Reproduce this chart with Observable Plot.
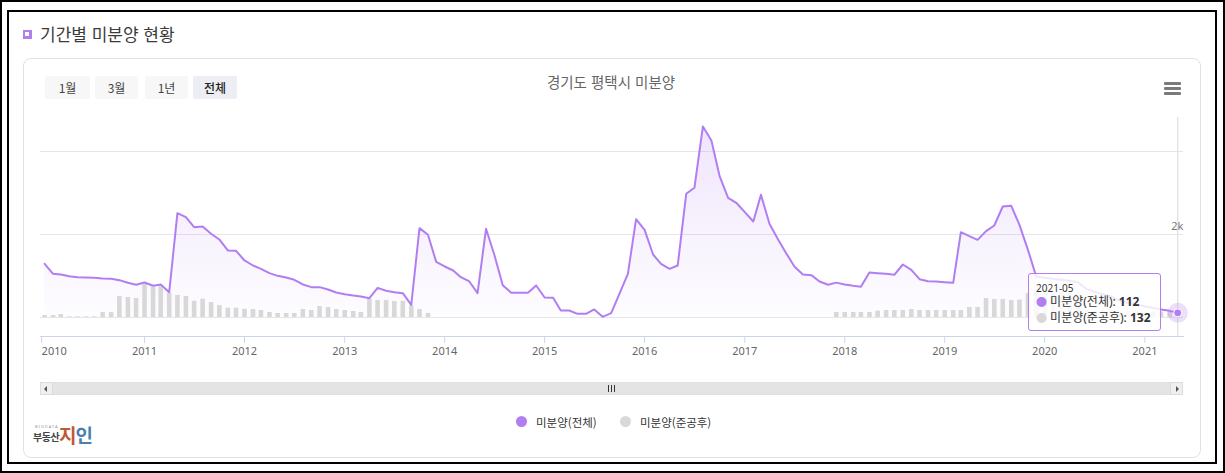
<!DOCTYPE html>
<html lang="ko">
<head>
<meta charset="utf-8">
<script src="https://cdn.jsdelivr.net/npm/d3@7"></script>
<script src="https://cdn.jsdelivr.net/npm/@observablehq/plot@0.6"></script>
<style>
  html, body { margin: 0; padding: 0; background: #fff; }
  body { width: 1225px; height: 473px; overflow: hidden; position: relative;
         font-family: "Noto Sans CJK KR", "Noto Sans", sans-serif; }
  .abs { position: absolute; }
  .btn { position: absolute; top: 76px; height: 23px; line-height: 23px; text-align: center;
         font-size: 12px; color: #444; background: #f7f7f8; border-radius: 2px; }
  .btn.on { background: #eceef3; color: #222; font-weight: 500; }
  .hb { position: absolute; left: 1164px; width: 17px; height: 2.6px; background: #7a7a7a; border-radius: 1px; }
  .leg { position: absolute; top: 414px; font-size: 11.5px; color: #333; line-height: 16px; }
  .legdot { position: absolute; top: 416px; width: 11px; height: 11px; border-radius: 50%; }
</style>
</head>
<body>
<div id="root"></div>
<script>
// ---------------- data ----------------
const startMonth = "2010-01";
const endMonth = "2021-05";
const seriesNames = ["미분양(전체)", "미분양(준공후)"];
const chartTitle = "경기도 평택시 미분양";
const sectionTitle = "기간별 미분양 현황";
const rangeButtons = ["1월", "3월", "1년", "전체"];

// 미분양(전체), monthly 2010-01 .. 2021-05
const totalValues = [
  1294, 1053, 1036, 996, 972, 965, 956, 940, 932, 900, 836, 788,
  844, 764, 795, 610, 2514, 2418, 2176, 2193, 2017, 1880, 1615, 1607,
  1374, 1253, 1173, 1069, 1004, 964, 908, 795, 731, 731, 675, 603,
  562, 530, 506, 466, 715, 643, 610, 586, 305, 2153, 1993, 1340,
  1229, 1133, 972, 868, 586, 2137, 1518, 779, 595, 595, 595, 771,
  482, 474, 169, 169, 88, 88, 193, 16, 104, 571, 1053, 2370,
  2113, 1518, 1293, 1173, 1253, 2981, 3125, 4603, 4266, 3406, 2884, 2764,
  2538, 2314, 2957, 2258, 1897, 1550, 1229, 1036, 1020, 868, 788, 840,
  795, 763, 739, 1084, 1068, 1052, 1028, 1277, 1148, 923, 875, 867,
  851, 835, 2056, 1959, 1871, 2080, 2216, 2674, 2690, 2232, 1630, 990,
  960, 935, 910, 885, 850, 690, 620, 560, 500, 400, 350, 310,
  270, 230, 195, 160, 112
];

// 미분양(준공후), monthly 2010-01 .. 2021-05 (null = no value)
const completedValues = [
  48, 48, 72, 16, 16, 16, 16, 120, 120, 506, 482, 458,
  800, 735, 765, 586, 530, 506, 393, 441, 361, 289, 225, 225,
  201, 193, 169, 120, 96, 96, 96, 193, 169, 265, 241, 193,
  169, 144, 120, 440, 412, 412, 386, 390, 280, 193, 100, null,
  null, null, null, null, null, null, null, null, null, null, null, null,
  null, null, null, null, null, null, null, null, null, null, null, null,
  null, null, null, null, null, null, null, null, null, null, null, null,
  null, null, null, null, null, null, null, null, null, null, null, 120,
  120, 120, 120, 120, 153, 169, 169, 169, 193, 169, 169, 169,
  169, 169, 169, 241, 241, 458, 434, 434, 410, 420, 580, 620,
  620, 600, 600, 580, 560, 170, 160, 150, 150, 140, 140, 140,
  130, 130, 130, 130, 132
];

const yGridValues = [0, 2000, 4000];
const yLabelValues = [2000];
const yLabelText = ["2k"];
const xTickYears = [2010, 2011, 2012, 2013, 2014, 2015, 2016, 2017, 2018, 2019, 2020, 2021];

// ---------------- build ----------------
const parseMonth = d3.utcParse("%Y-%m");
const months = d3.utcMonth.range(parseMonth(startMonth), d3.utcMonth.offset(parseMonth(endMonth), 1));
const rows = months.map((date, i) => ({date, total: totalValues[i], completed: completedValues[i]}));
const barRows = rows.filter(d => d.completed != null);
const last = rows[rows.length - 1];
const yearTicks = xTickYears.map(y => new Date(Date.UTC(y, 0, 1)));

const purple = "#b17ef2";
const grey = "#d8d8d8";

const gradient = () => {
  const defs = d3.create("svg:defs");
  const g = defs.append("linearGradient").attr("id", "areaGrad")
    .attr("x1", 0).attr("y1", 0).attr("x2", 0).attr("y2", 1);
  g.append("stop").attr("offset", "0%").attr("stop-color", purple).attr("stop-opacity", 0.2);
  g.append("stop").attr("offset", "100%").attr("stop-color", purple).attr("stop-opacity", 0.02);
  return defs.node();
};

const axisStyle = {tickFormat: d3.utcFormat("%Y"), tickSize: 7, tickPadding: 4,
  stroke: "#ccd6eb", strokeOpacity: 1, fill: "#666", fontSize: 11, label: null};

const chart = Plot.plot({
  width: 1225,
  height: 370,
  marginLeft: 40,
  marginRight: 42,
  marginTop: 117,
  marginBottom: 34,
  style: {background: "transparent", fontFamily: "'Noto Sans', 'Noto Sans CJK KR', sans-serif", overflow: "visible"},
  x: {type: "utc", domain: [new Date(Date.UTC(2009, 11, 17)), new Date(Date.UTC(2021, 4, 22))], axis: null},
  y: {domain: [-458, 4819], axis: null},
  marks: [
    gradient,
    Plot.gridY(yGridValues, {stroke: "#e6e6e6", strokeOpacity: 1}),
    Plot.ruleX([last], {x: "date", stroke: "#d9d9d9", strokeWidth: 1}),
    Plot.areaY(rows, {x: "date", y: "total", fill: "url(#areaGrad)"}),
    Plot.ruleX(barRows, {x: "date", y1: 0, y2: "completed", stroke: grey, strokeWidth: 4.6}),
    Plot.lineY(rows, {x: "date", y: "total", stroke: purple, strokeWidth: 2, strokeLinejoin: "round"}),
    Plot.frame({anchor: "bottom", stroke: "#ccd6eb", strokeOpacity: 1}),
    Plot.axisX(yearTicks.slice(0, 1), {...axisStyle, textAnchor: "start", dx: -3}),
    Plot.axisX(yearTicks.slice(1), axisStyle),
    Plot.text(yLabelValues, {y: d => d, text: (d, i) => yLabelText[i], frameAnchor: "right",
      textAnchor: "end", dy: -8, fill: "#777", fontSize: 11}),
    Plot.dot([last], {x: "date", y: "total", r: 10, fill: purple, fillOpacity: 0.25, stroke: "none"}),
    Plot.dot([last], {x: "date", y: "total", r: 4, fill: purple, stroke: "#fff", strokeWidth: 1})
  ]
});

const root = document.getElementById("root");
const html = (s) => { const t = document.createElement("template"); t.innerHTML = s.trim(); return t.content.firstChild; };

// frames
root.appendChild(html(`<div class="abs" style="left:0;top:0;width:1225px;height:473px;border:2px solid #000;box-sizing:border-box"></div>`));
root.appendChild(html(`<div class="abs" style="left:7px;top:10px;width:1210px;height:454px;border:2px solid #000;box-sizing:border-box"></div>`));
// section title
root.appendChild(html(`<div class="abs" style="left:23px;top:30px;width:9px;height:9px;background:#b17ef2;box-sizing:border-box;border:2.5px solid #b17ef2;"><div style="width:4px;height:4px;background:#fff"></div></div>`));
root.appendChild(html(`<div class="abs" style="left:40px;top:22px;font-size:17px;color:#3a3a3a;line-height:24px">${sectionTitle}</div>`));
// card
root.appendChild(html(`<div class="abs" style="left:23px;top:58px;width:1178px;height:400px;border:1px solid #dde1e8;border-radius:8px;box-sizing:border-box"></div>`));
// buttons
const btnPos = [[45, 45], [95, 43], [145, 43], [193, 44]];
rangeButtons.forEach((b, i) => {
  root.appendChild(html(`<div class="btn${i === 3 ? " on" : ""}" style="left:${btnPos[i][0]}px;width:${btnPos[i][1]}px">${b}</div>`));
});
// chart title
root.appendChild(html(`<div class="abs" style="left:411px;width:400px;top:71px;text-align:center;font-size:14.5px;color:#666;line-height:22px">${chartTitle}</div>`));
// hamburger
[82, 87, 92].forEach(t => root.appendChild(html(`<div class="hb" style="top:${t}px"></div>`)));

// plot
chart.style.position = "absolute";
chart.style.left = "0px";
chart.style.top = "0px";
root.appendChild(chart);

// tooltip
const fmt = d3.utcFormat("%Y-%m");
root.appendChild(html(`<div class="abs" style="left:1028px;top:273px;width:133px;height:58px;box-sizing:border-box;border:1px solid ${purple};border-radius:3px;background:rgba(255,255,255,0.82);font-family:'Noto Sans','Noto Sans CJK KR',sans-serif;color:#333">
  <div style="position:absolute;left:7px;top:8px;font-size:10px;line-height:12px;color:#333">${fmt(last.date)}</div>
  <div style="position:absolute;left:7px;top:20px;font-size:12px;line-height:16px;white-space:nowrap"><span style="color:${purple};font-size:11px">●</span> ${seriesNames[0]}: <b>${last.total}</b></div>
  <div style="position:absolute;left:7px;top:36px;font-size:12px;line-height:16px;white-space:nowrap"><span style="color:${grey};font-size:11px">●</span> ${seriesNames[1]}: <b>${last.completed}</b></div>
</div>`));

// scrollbar
root.appendChild(html(`<div class="abs" style="left:40px;top:382px;width:1143px;height:13px;background:#e4e4e4;border:1px solid #e0e0e0;box-sizing:border-box"></div>`));
root.appendChild(html(`<div class="abs" style="left:40px;top:382px;width:13px;height:13px;background:#efefef;border:1px solid #dcdcdc;box-sizing:border-box"><div style="position:absolute;left:3px;top:3px;width:0;height:0;border-top:3px solid transparent;border-bottom:3px solid transparent;border-right:3px solid #555"></div></div>`));
root.appendChild(html(`<div class="abs" style="left:1170px;top:382px;width:13px;height:13px;background:#efefef;border:1px solid #dcdcdc;box-sizing:border-box"><div style="position:absolute;left:5px;top:3px;width:0;height:0;border-top:3px solid transparent;border-bottom:3px solid transparent;border-left:3px solid #555"></div></div>`));
[608, 611, 614].forEach(l => root.appendChild(html(`<div class="abs" style="left:${l}px;top:385px;width:1px;height:7px;background:#333"></div>`)));

// legend
root.appendChild(html(`<div class="legdot" style="left:516px;background:${purple}"></div>`));
root.appendChild(html(`<div class="leg" style="left:536px">${seriesNames[0]}</div>`));
root.appendChild(html(`<div class="legdot" style="left:620px;background:${grey}"></div>`));
root.appendChild(html(`<div class="leg" style="left:640px">${seriesNames[1]}</div>`));

// logo
root.appendChild(html(`<div class="abs" style="left:35px;top:424px;font-size:4px;letter-spacing:1px;color:#999;line-height:5px;font-family:'Noto Sans',sans-serif">BIGDATA</div>`));
root.appendChild(html(`<div class="abs" style="left:33px;top:430px;font-size:10px;font-weight:700;color:#444;line-height:14px;letter-spacing:-0.5px">부동산</div>`));
root.appendChild(html(`<div class="abs" style="left:59px;top:423px;font-size:19px;font-weight:700;line-height:24px;letter-spacing:-1px"><span style="color:#c0583a">지</span><span style="color:#4a7fb0">인</span></div>`));
</script>
</body>
</html>
